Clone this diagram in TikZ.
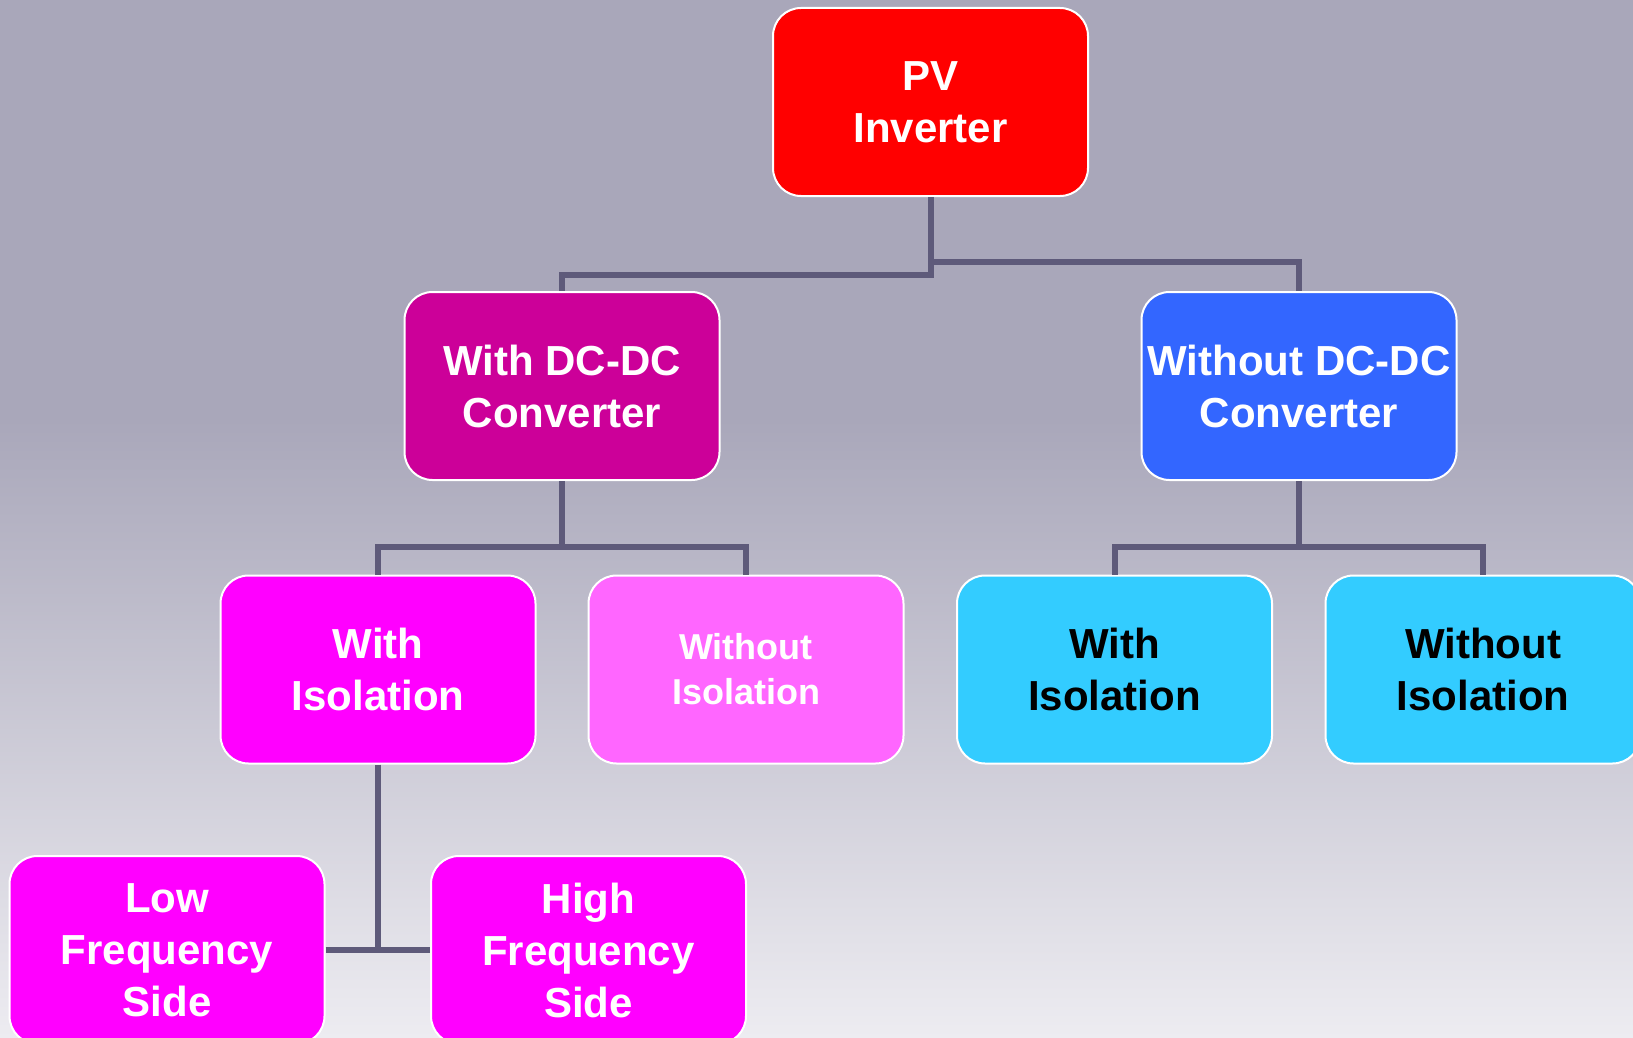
\documentclass[tikz,border=0pt]{standalone}
\usepackage{fontspec}
\setmainfont{Liberation Sans}
\definecolor{bgtop}{RGB}{169,167,186}
\definecolor{bgbot}{RGB}{237,236,241}
\definecolor{conncol}{RGB}{94,90,122}
\definecolor{pvred}{RGB}{255,0,0}
\definecolor{dcmag}{RGB}{204,0,153}
\definecolor{dcblue}{RGB}{51,102,255}
\definecolor{magenta1}{RGB}{255,0,255}
\definecolor{pink1}{RGB}{255,102,255}
\definecolor{cyan1}{RGB}{51,204,255}
\tikzset{
  box/.style={draw=white, line width=2pt, rounded corners=28pt, minimum width=315pt,
    minimum height=188pt, align=center, inner sep=0pt, text=white,
    font=\fontsize{42}{52}\selectfont\bfseries},
  smallbox/.style={box, font=\fontsize{36}{45}\selectfont\bfseries},
  conn/.style={draw=conncol, line width=6pt}
}
\begin{document}
\begin{tikzpicture}[x=1pt,y=-1pt]
\useasboundingbox (0,0) rectangle (1633,1038);
\clip (0,0) rectangle (1633,1038);
\fill[bgtop] (0,0) rectangle (1633,420);
\shade[top color=bgtop, bottom color=bgbot] (0,419) rectangle (1633,1038);

\node[box, fill=pvred] (pv) at (930.5,102) {PV\\Inverter};
\node[box, fill=dcmag] (wdc) at (562,386) {With DC-DC\\Converter};
\node[box, fill=dcblue] (wodc) at (1299,386) {Without DC-DC\\Converter};
\node[box, fill=magenta1] (wi) at (378,669.5) {With\\Isolation};
\node[smallbox, fill=pink1] (woi) at (746,669.5) {Without\\Isolation};
\node[box, fill=cyan1, text=black] (cwi) at (1114.5,669.5) {With\\Isolation};
\node[box, fill=cyan1, text=black] (cwoi) at (1483,669.5) {Without\\Isolation};
\node[box, fill=magenta1] (low) at (167,950) {Low\\Frequency\\Side};
\node[box, fill=magenta1] (high) at (588.5,950) {High\\Frequency\\Side};

\draw[conn] (pv.south) -- ++(0,78) -| (wdc.north);
\draw[conn] (pv.south) -- ++(0,65) -| (wodc.north);
\draw[conn] (wdc.south) -- ++(0,66) -| (wi.north);
\draw[conn] (wdc.south) -- ++(0,66) -| (woi.north);
\draw[conn] (wodc.south) -- ++(0,66) -| (cwi.north);
\draw[conn] (wodc.south) -- ++(0,66) -| (cwoi.north);
\draw[conn] (wi.south) -- (wi.south |- low.east);
\draw[conn] (low.east) -- (high.west);
\end{tikzpicture}
\end{document}
